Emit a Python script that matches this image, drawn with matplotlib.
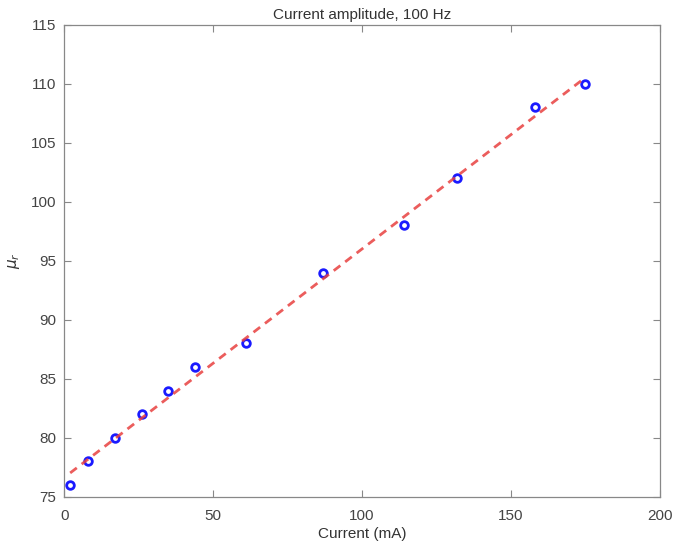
import numpy as np
import matplotlib
matplotlib.use('Agg')
import matplotlib.pyplot as plt

# measured points
current_ma = [2, 8, 17, 26, 35, 44, 61, 87, 114, 132, 158, 175]
mu_r = [76, 78, 80, 82, 84, 86, 88, 94, 98, 102, 108, 110]

x_ticks = [0, 50, 100, 150, 200]
y_ticks = [75, 80, 85, 90, 95, 100, 105, 110, 115]

plt.rcParams['font.family'] = ['Liberation Sans', 'DejaVu Sans']

fig = plt.figure(figsize=(6.76, 5.52), dpi=100)
ax = fig.add_axes([0.095, 0.1, 0.881, 0.855])

ax.plot(current_ma, mu_r, 'o', markerfacecolor='none', markeredgecolor='#1a1aff',
        markeredgewidth=2, markersize=5.5, zorder=2)

# linear fit, drawn on top of the markers
coef = np.polyfit(current_ma, mu_r, 1)
xfit = np.array([min(current_ma), max(current_ma)])
ax.plot(xfit, np.polyval(coef, xfit), '--', color='#e8403f', linewidth=2,
        dashes=(3, 2.2), alpha=0.85, zorder=3)

ax.set_xlim(0, 200)
ax.set_ylim(75, 115)
ax.set_xticks(x_ticks)
ax.set_yticks(y_ticks)

for s in ax.spines.values():
    s.set_color('#888888')
    s.set_linewidth(0.9)
ax.tick_params(direction='in', top=True, right=True, colors='#888888', labelcolor='#444444',
               labelsize=11, length=5)
ax.tick_params(axis='x', pad=9)
ax.tick_params(axis='y', pad=6)

ax.set_xlabel('Current (mA)', fontsize=11, color='#333333', labelpad=3)
ax.set_ylabel(r'$\mu_r$', fontsize=11, color='#333333', labelpad=6)
ax.set_title('Current amplitude, 100 Hz', fontsize=11, color='#333333', pad=4)

fig.savefig('out.png', dpi=100)
